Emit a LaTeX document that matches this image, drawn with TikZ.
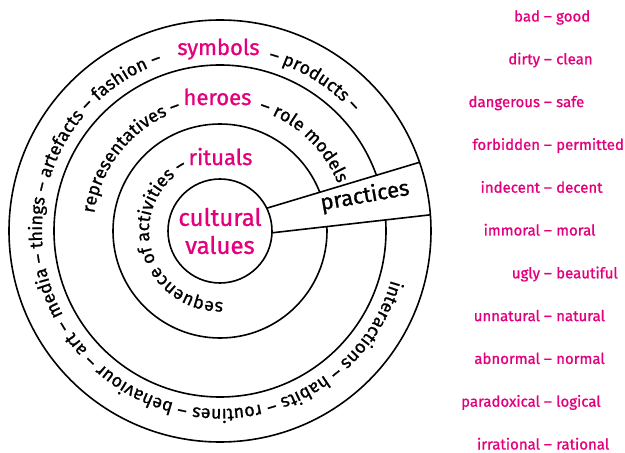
\documentclass[tikz,border=0pt]{standalone}
\usepackage{fontspec}
\setmainfont{Fira Sans}[FakeBold=1]
\usepackage{tikz}
\usetikzlibrary{positioning,decorations.text}
\definecolor{ink}{HTML}{000000}
\definecolor{accent}{HTML}{E4007C}
\newcommand\ringfont{\fontsize{18}{20}\selectfont}

\begin{document}
\begin{tikzpicture}[x=1pt,y=1pt,
  ring/.style={draw=ink,line width=1.6pt,circle,inner sep=0pt,outer sep=0pt},
  layer/.style={text=accent,font=\fontsize{22}{24}\selectfont,inner sep=0pt},
  pair/.style={text=accent,font=\fontsize{15}{17}\selectfont,inner sep=0pt},
  ringtext/.style={decorate,decoration={text along path,text align=center,text={|\ringfont|#1}}}]
  \useasboundingbox (-220,-222) rectangle (405,231);
  % middle rings
  \node[ring,minimum size=332pt] (heroring) at (0,0) {};
  \node[ring,minimum size=214pt] (ritualring) at (0,0) {};
  % practices band
  \coordinate (pa) at (26:52);
  \coordinate (pb) at (19:211);
  \coordinate (pc) at (4.4:211);
  \coordinate (pd) at (-2:52);
  \fill[white] (pa) -- (pb) -- (pc) -- (pd) -- cycle;
  \draw[ink,line width=1.6pt] (pa) -- (pb);
  \draw[ink,line width=1.6pt] (pd) -- (pc);
  \node[text=ink,font=\fontsize{22}{24}\selectfont,inner sep=0pt,anchor=base,rotate=10] (practices) at (146,28.5) {practices};
  % core and outer ring
  \node[ring,minimum size=422pt] (outer) at (0,0) {};
  \node[ring,minimum size=104pt,align=center,text=accent,font=\fontsize{24}{28}\selectfont] (values) at (0,0) {cultural\\values};
  % layer names
  \node[layer,anchor=base] (symbols) at (-1.5,176) {symbols};
  \node[layer,anchor=base] (heroes) at (-2.5,126) {heroes};
  \node[layer,anchor=base] (rituals) at (0.5,66) {rituals};
  % texts along the rings
  \path[decorate,decoration={text along path,text align={fit to path stretching spaces},
    text={|\ringfont|interactions – habits – routines – behaviour – art – media – things – artefacts – fashion –}}]
    (-16:178) arc[start angle=-16,end angle=-251,radius=178];
  \path[ringtext={– products –}] (76:178) arc[start angle=76,end angle=40,radius=178];
  \path[ringtext={representatives –}] (173:127) arc[start angle=173,end angle=107,radius=127];
  \path[ringtext={– role models}] (72:127) arc[start angle=72,end angle=22,radius=127];
  \path[ringtext={sequence of activities –}] (-86:71) arc[start angle=-86,end angle=-244,radius=71];
  % value pairs
  \foreach \a/\b [count=\i] in {bad/good,dirty/clean,dangerous/safe,forbidden/permitted,indecent/decent,immoral/moral,ugly/beautiful,unnatural/natural,abnormal/normal,paradoxical/logical,irrational/rational}{
    \node[pair,anchor=base east] (neg\i) at (332,{209.5-42.8*(\i-1)}) {\a\ –};
    \node[pair,anchor=base west] (pos\i) at (336,{209.5-42.8*(\i-1)}) {\b};
  }
\end{tikzpicture}
\end{document}
